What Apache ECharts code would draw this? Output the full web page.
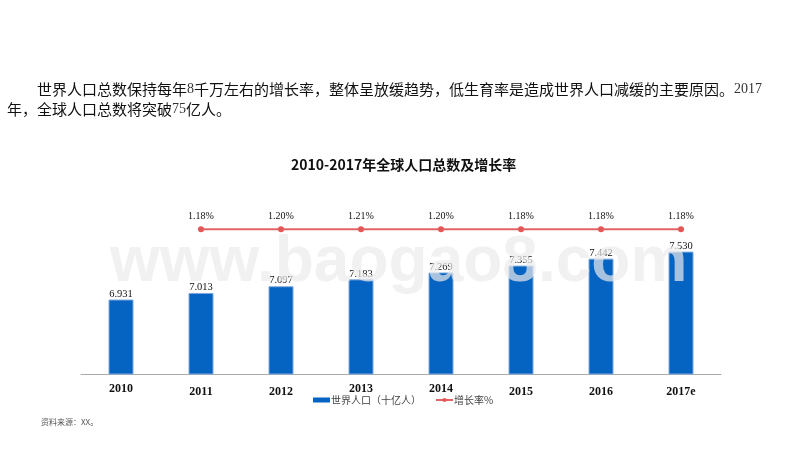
<!DOCTYPE html>
<html><head><meta charset="utf-8">
<style>html,body{margin:0;padding:0;background:#fff}#c{width:800px;height:450px}</style>
<script src="https://cdn.jsdelivr.net/npm/echarts@6/dist/echarts.min.js"></script></head>
<body><div id="c"></div>
<script>
const categories = ['2010','2011','2012','2013','2014','2015','2016','2017e'];
const population = [6.931,7.013,7.097,7.183,7.269,7.355,7.442,7.530];
const growth = [1.18,1.20,1.21,1.20,1.18,1.18,1.18];
const lineData = [null].concat(growth);
const raisedLabels = ['2010','2013','2014'];
const titleText = '2010-2017年全球人口总数及增长率';
const sourceText = '资料来源：XX。';
const watermark = 'www.baogao8.com';
const cjk = '"Noto Sans CJK SC"';
const serif = '"Liberation Serif"';
const bodyRich = {c:{fontFamily:cjk,fontSize:15,fill:'#111'},d:{fontFamily:serif,fontSize:14,fill:'#333'}};
const chart = echarts.init(document.getElementById('c'));
chart.setOption({
  animation:false,
  backgroundColor:'#fff',
  title:{text:titleText,left:286,top:153,itemGap:0,
    textStyle:{fontFamily:cjk,fontSize:14,fontWeight:'bold',color:'#111'}},
  legend:{top:390,left:308,itemGap:14,itemWidth:17,itemHeight:5,
    textStyle:{fontFamily:cjk,fontSize:10,color:'#444',padding:[0,0,0,-4]},
    data:[{name:'世界人口（十亿人）',icon:'rect',itemStyle:{borderWidth:0}},{name:'增长率%'}]},
  grid:{left:81,right:79,top:214,bottom:76},
  xAxis:{type:'category',data:categories,
    axisTick:{show:false},
    axisLine:{onZero:false,lineStyle:{color:'#aaa',width:1}},
    axisLabel:{margin:9,interval:0,
      formatter:v=>(raisedLabels.includes(v)?'{a|':'{b|')+v+'}',
      rich:{a:{fontFamily:serif,fontSize:12,fontWeight:'bold',color:'#111',padding:[0,0,3,0]},
            b:{fontFamily:serif,fontSize:12,fontWeight:'bold',color:'#111',padding:[3,0,0,0]}}}},
  yAxis:[
    {type:'value',min:6,max:8,interval:0.5,show:false,splitLine:{show:false}},
    {type:'value',min:-35,max:5,interval:5,show:false,splitLine:{show:false}}
  ],
  series:[
    {name:'世界人口（十亿人）',type:'bar',data:population,barWidth:25,
      itemStyle:{color:'#0563C1',borderColor:'#7FA9DC',borderWidth:1},
      label:{show:true,position:'top',distance:0,formatter:p=>p.value.toFixed(3),
        fontFamily:serif,fontSize:10.5,color:'#111'}},
    {name:'增长率%',type:'line',yAxisIndex:1,data:lineData,symbol:'circle',symbolSize:6,
      lineStyle:{color:'#E46464',width:2},itemStyle:{color:'#E45555'},
      label:{show:true,position:'top',distance:5,formatter:p=>p.value.toFixed(2)+'%',
        fontFamily:serif,fontSize:10,color:'#111'}}
  ],
  graphic:[
    {type:'text',left:37,top:82,style:{
      text:'{c|世界人口总数保持每年}{d|8}{c|千万左右的增长率，整体呈放缓趋势，低生育率是造成世界人口减缓的主要原因。}{d|2017}',rich:bodyRich}},
    {type:'text',left:7,top:102,style:{
      text:'{c|年，全球人口总数将突破}{d|75}{c|亿人。}',rich:bodyRich}},
    {type:'text',left:41,top:418,style:{text:sourceText,fontFamily:cjk,fontSize:8,fill:'#555'}},
    {type:'text',left:110,top:231,z:100,silent:true,style:{text:watermark,
      fontFamily:'"Liberation Sans"',fontSize:64,fontWeight:'bold',
      fill:'rgba(235,235,235,0.7)'}}
  ]
});
</script></body></html>
